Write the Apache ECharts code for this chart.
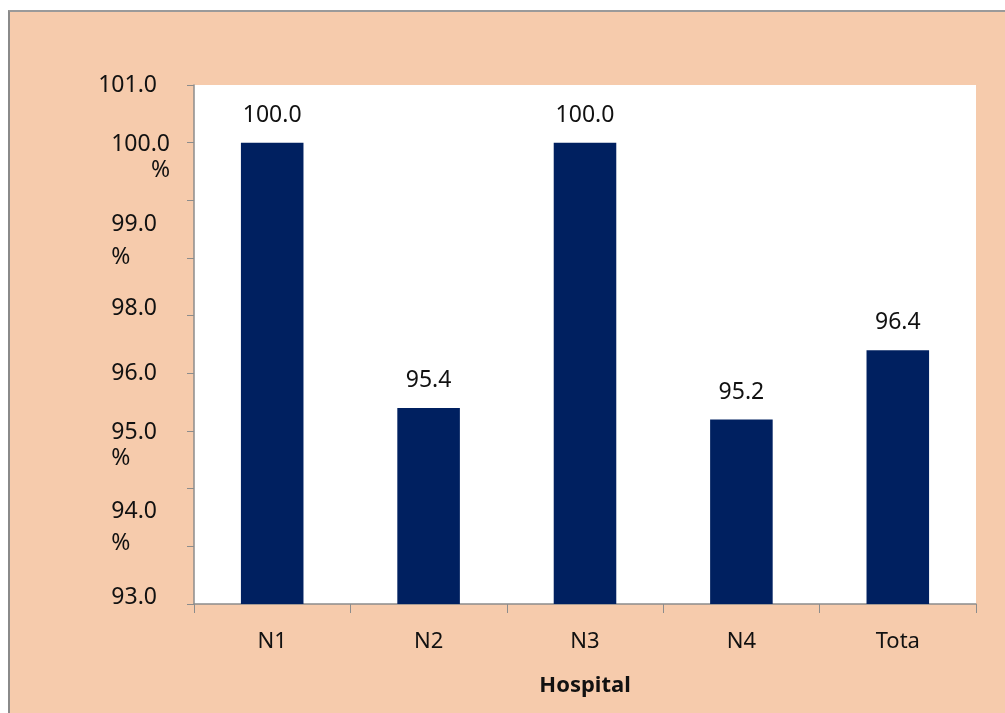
<!DOCTYPE html>
<html>
<head>
<meta charset="utf-8">
<script src="https://cdn.jsdelivr.net/npm/echarts@6/dist/echarts.min.js"></script>
<style>
    body { margin: 0; background: #fff; }
    #frame {
        position: absolute; left: 8px; top: 10px; right: 0; bottom: 0;
        background: #F6CBAC;
        border-top: 2px solid #9a9a9a;
        border-left: 2px solid #8a8a8a;
    }
    #chart { position: absolute; left: 0; top: 0; width: 1005px; height: 713px; }
</style>
</head>
<body>
<div id="frame"></div>
<div id="chart"></div>
<script>
// data
var categories = ['N1', 'N2', 'N3', 'N4', 'Tota'];
var values = [100.0, 95.4, 100.0, 95.2, 96.4];
// y tick labels as printed in the original, from tick 92 up to 101
var yTickValues = [92, 93, 94, 95, 96, 97, 98, 99, 100, 101];
var yTickLabels = ['93.0', '94.0\n%', '', '95.0\n%', '96.0', '98.0', '99.0\n%', '', '100.0\n%', '101.0'];

// how each printed label sits around its tick (spacer lines, not data)
function richLabel(txt) {
    if (!txt) return '';
    var p = txt.split('\n');
    switch (txt) {
        case '100.0\n%': return '{sp30| }\n{w|' + p[0] + '}\n{w|' + p[1] + '}';
        case '99.0\n%': return '{b|' + p[0] + '}\n{bl|' + p[1] + '}\n{sp35| }';
        case '95.0\n%': return '{sp28| }\n{a|' + p[0] + '}\n{al|' + p[1] + '}';
        case '94.0\n%': return '{c|' + p[0] + '}\n{cl|' + p[1] + '}\n{sp38| }';
        case '98.0':
        case '93.0': return '{a|' + txt + '}\n{sp14| }';
        default: return '{a|' + txt + '}';
    }
}

var font = '"Noto Sans", "Open Sans", sans-serif';
var txt = { fontSize: 23, fontFamily: font, color: '#111' };
function st(extra) { return Object.assign({}, txt, extra); }

var chart = echarts.init(document.getElementById('chart'));
chart.setOption({
    backgroundColor: 'transparent',
    animation: false,
    grid: {
        left: 194, right: 29, top: 85, bottom: 109,
        containLabel: false,
        outerBoundsMode: 'none',
        show: true, backgroundColor: '#fff', borderWidth: 0
    },
    xAxis: {
        type: 'category',
        data: categories,
        boundaryGap: true,
        axisLine: { lineStyle: { color: '#8c8c8c', width: 1.5 } },
        axisTick: { show: true, length: 9, alignWithLabel: false, lineStyle: { color: '#8c8c8c' } },
        axisLabel: { margin: 25, fontSize: 22, fontFamily: font, color: '#111', lineHeight: 26 },
        name: 'Hospital',
        nameLocation: 'middle',
        nameGap: 71,
        nameTextStyle: { fontSize: 22, fontWeight: 'bold', fontFamily: font, color: '#111' }
    },
    yAxis: {
        type: 'value',
        min: 92, max: 101, interval: 1,
        splitLine: { show: false },
        axisLine: { show: true, lineStyle: { color: '#8c8c8c', width: 1.5 } },
        axisTick: { show: true, length: 7, lineStyle: { color: '#8c8c8c' } },
        axisLabel: {
            margin: 24,
            hideOverlap: false,
            showMinLabel: true, showMaxLabel: true,
            formatter: function (v) {
                var i = yTickValues.indexOf(Math.round(v));
                return i < 0 ? '' : richLabel(yTickLabels[i]);
            },
            rich: {
                a: st({ lineHeight: 26, align: 'right', padding: [0, 13, 0, 0] }),
                al: st({ lineHeight: 26, align: 'left' }),
                w: st({ lineHeight: 26, align: 'right' }),
                b: st({ lineHeight: 33, align: 'right', padding: [0, 13, 0, 0] }),
                bl: st({ lineHeight: 33, align: 'left' }),
                c: st({ lineHeight: 32, align: 'right', padding: [0, 13, 0, 0] }),
                cl: st({ lineHeight: 32, align: 'left' }),
                sp14: { lineHeight: 14, fontSize: 10 },
                sp28: { lineHeight: 28, fontSize: 10 },
                sp30: { lineHeight: 30, fontSize: 10 },
                sp35: { lineHeight: 35, fontSize: 10 },
                sp38: { lineHeight: 38, fontSize: 10 }
            }
        }
    },
    series: [{
        type: 'bar',
        data: values,
        barWidth: '40%',
        itemStyle: { color: '#002060' },
        label: {
            show: true,
            position: 'top',
            distance: 16,
            formatter: function (p) { return p.value.toFixed(1); },
            fontSize: 23, fontFamily: font, color: '#111'
        }
    }]
});
</script>
</body>
</html>
